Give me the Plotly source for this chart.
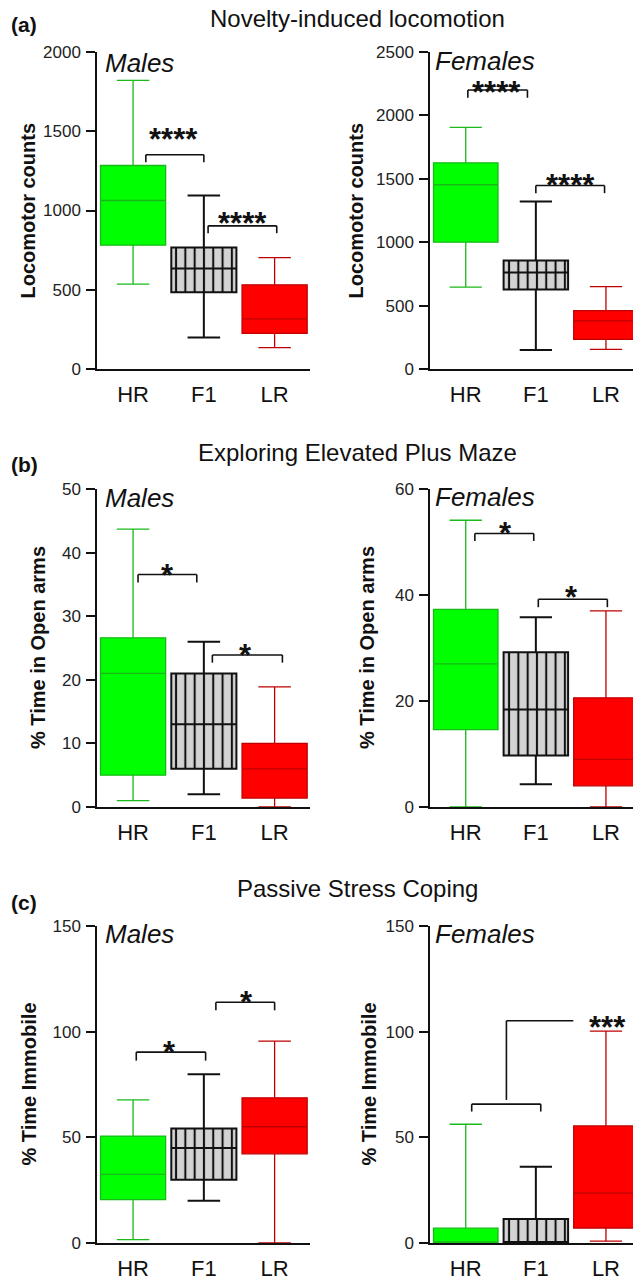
import plotly.graph_objects as go
from plotly.subplots import make_subplots

groups = ["HR", "F1", "LR"]

# (a) Novelty-induced locomotion
loco_m_low = [535, 198, 135]
loco_m_q1 = [781, 484, 225]
loco_m_med = [1063, 634, 316]
loco_m_q3 = [1284, 766, 531]
loco_m_high = [1821, 1095, 703]

loco_f_low = [645, 150, 155]
loco_f_q1 = [1000, 626, 234]
loco_f_med = [1453, 761, 379]
loco_f_q3 = [1626, 855, 461]
loco_f_high = [1905, 1321, 650]

# (b) Elevated plus maze
epm_m_low = [1.0, 2.0, 0.0]
epm_m_q1 = [5.0, 6.0, 1.4]
epm_m_med = [21.0, 13.0, 6.0]
epm_m_q3 = [26.6, 21.0, 10.0]
epm_m_high = [43.7, 26.0, 18.9]

epm_f_low = [0.0, 4.3, 0.0]
epm_f_q1 = [14.6, 9.7, 4.0]
epm_f_med = [27.0, 18.4, 9.0]
epm_f_q3 = [37.3, 29.2, 20.6]
epm_f_high = [54.1, 35.8, 37.0]

# (c) Passive stress coping
imm_m_low = [1.6, 20.0, 0.0]
imm_m_q1 = [20.5, 29.9, 42.2]
imm_m_med = [32.5, 44.9, 55.0]
imm_m_q3 = [50.6, 54.2, 68.7]
imm_m_high = [67.7, 79.9, 95.5]

imm_f_low = [0.0, 0.0, 0.9]
imm_f_q1 = [0.0, 0.0, 7.1]
imm_f_med = [0.0, 0.3, 23.6]
imm_f_q3 = [7.0, 11.4, 55.4]
imm_f_high = [56.2, 36.1, 100.3]

# significance brackets: (x0, x1, y_leg, y_top, label, label_x, label_y)
loco_m_sig = [(0.18, 1.0, 1305, 1352, "****", 0.57, 1493), (1.06, 2.03, 857, 903, "****", 1.55, 962)]
loco_f_sig = [(0.03, 0.88, 2139, 2200, "****", 0.44, 2234), (1.0, 1.98, 1387, 1447, "****", 1.49, 1503)]
epm_m_sig = [(0.07, 0.90, 35.3, 36.55, "*", 0.49, 37.5), (1.12, 2.11, 22.7, 23.9, "*", 1.59, 24.9)]
epm_f_sig = [(0.13, 0.97, 50.2, 51.6, "*", 0.56, 53.0), (1.035, 2.02, 37.7, 39.2, "*", 1.51, 40.8)]
imm_m_sig = [(0.045, 1.025, 86.3, 90.3, "*", 0.51, 93.3), (1.17, 2.0, 110.1, 113.9, "*", 1.60, 117.2)]
imm_f_sig = [(0.085, 1.07, 62.2, 65.7, "", 0, 0)]
imm_f_joint = (0.58, 67.7, 105.2, 1.535, "***", 2.02, 105.2)

panels = [
    dict(r=1, c=1, low=loco_m_low, q1=loco_m_q1, med=loco_m_med, q3=loco_m_q3, high=loco_m_high,
         rng=[0, 2000], dt=500, sig=loco_m_sig, sex="Males", ytitle="Locomotor counts"),
    dict(r=1, c=2, low=loco_f_low, q1=loco_f_q1, med=loco_f_med, q3=loco_f_q3, high=loco_f_high,
         rng=[0, 2500], dt=500, sig=loco_f_sig, sex="Females", ytitle="Locomotor counts"),
    dict(r=2, c=1, low=epm_m_low, q1=epm_m_q1, med=epm_m_med, q3=epm_m_q3, high=epm_m_high,
         rng=[0, 50], dt=10, sig=epm_m_sig, sex="Males", ytitle="% Time in Open arms"),
    dict(r=2, c=2, low=epm_f_low, q1=epm_f_q1, med=epm_f_med, q3=epm_f_q3, high=epm_f_high,
         rng=[0, 60], dt=20, sig=epm_f_sig, sex="Females", ytitle="% Time in Open arms"),
    dict(r=3, c=1, low=imm_m_low, q1=imm_m_q1, med=imm_m_med, q3=imm_m_q3, high=imm_m_high,
         rng=[0, 150], dt=50, sig=imm_m_sig, sex="Males", ytitle="% Time Immobile"),
    dict(r=3, c=2, low=imm_f_low, q1=imm_f_q1, med=imm_f_med, q3=imm_f_q3, high=imm_f_high,
         rng=[0, 150], dt=50, sig=imm_f_sig, sex="Females", ytitle="% Time Immobile"),
]

titles = ["Novelty-induced locomotion", "Exploring Elevated Plus Maze", "Passive Stress Coping"]
tags = ["(a)", "(b)", "(c)"]

# the page body adds an 8px margin around the figure; compensate
OFF = 8
W, H = 641 - OFF, 1281 - OFF
FONT = "Liberation Sans, Arial, sans-serif"


def px(x):
    return (x - OFF) / W


def py(y):
    return 1 - (y - OFF) / H


fills = {"HR": "#00ff00", "F1": "rgba(0,0,0,0)", "LR": "#ff0000"}
lines = {"HR": "#19b919", "F1": "#111111", "LR": "#c00000"}
lwidth = {"HR": 1.3, "F1": 2.0, "LR": 1.3}

# pixel layout (in window coordinates)
row_px = [(52, 369), (489, 807), (926, 1243)]
col_px = [(97, 310), (430, 641)]
ytitle_x = [[28, 356], [38, 367], [28, 368]]
sex_px = [[(103, 63), (433, 61)], [(103, 498), (433, 497)], [(103, 934), (433, 934)]]
title_y = [18, 452, 888]
tag_y = [25, 465, 902]

BW = 0.92
STAR_FONT = dict(family=FONT, size=31, color="#111111")

fig = make_subplots(rows=3, cols=2)

for p in panels:
    r, c = p["r"], p["c"]
    for i, g in enumerate(groups):
        if g == "F1":
            fig.add_trace(go.Bar(
                x=[i], base=[p["q1"][i]], y=[p["q3"][i] - p["q1"][i]], width=[BW],
                marker=dict(color="#d3d3d3", line=dict(width=0),
                            pattern=dict(shape="|", fgcolor="#111111", bgcolor="#d3d3d3",
                                         size=9.3, solidity=0.22, fillmode="replace")),
                showlegend=False, hoverinfo="skip"), row=r, col=c)
        fig.add_trace(go.Box(
            x=[i], q1=[p["q1"][i]], median=[p["med"][i]], q3=[p["q3"][i]],
            lowerfence=[p["low"][i]], upperfence=[p["high"][i]],
            width=BW, whiskerwidth=0.5, boxpoints=False,
            fillcolor=fills[g], line=dict(color=lines[g], width=lwidth[g]),
            showlegend=False, name=g), row=r, col=c)

    n = (r - 1) * 2 + c
    xr = "x" if n == 1 else f"x{n}"
    yr = "y" if n == 1 else f"y{n}"
    for (x0, x1, yl, yt, lab, lx, ly) in p["sig"]:
        for (a0, b0, a1, b1) in [(x0, yl, x0, yt), (x0, yt, x1, yt), (x1, yt, x1, yl)]:
            fig.add_shape(type="line", xref=xr, yref=yr, x0=a0, y0=b0, x1=a1, y1=b1,
                          line=dict(color="#111111", width=1.6))
        if lab:
            fig.add_annotation(xref=xr, yref=yr, x=lx, y=ly, text=f"<b>{lab}</b>", showarrow=False,
                               font=STAR_FONT, xanchor="center", yanchor="middle", yshift=-7)
    if r == 3 and c == 2:
        mx, yb, yt2, xe, lab, lx, ly = imm_f_joint
        fig.add_shape(type="line", xref=xr, yref=yr, x0=mx, y0=yb, x1=mx, y1=yt2,
                      line=dict(color="#111111", width=1.6))
        fig.add_shape(type="line", xref=xr, yref=yr, x0=mx, y0=yt2, x1=xe, y1=yt2,
                      line=dict(color="#111111", width=1.6))
        fig.add_annotation(xref=xr, yref=yr, x=lx, y=ly, text=f"<b>{lab}</b>", showarrow=False,
                           font=STAR_FONT, xanchor="center", yanchor="middle", yshift=-7)

    top, bot = row_px[r-1]
    left, right = col_px[c-1]
    fig.update_xaxes(row=r, col=c, domain=[px(left), min(1.0, px(right))], range=[-0.51, 2.5],
                     tickvals=[0, 1, 2], ticktext=groups, showline=True, linecolor="#111111",
                     linewidth=1.5, ticks="", ticklabelstandoff=5, showgrid=False, zeroline=False,
                     automargin=False,
                     tickfont=dict(family=FONT, size=22, color="#111111"))
    fig.update_yaxes(row=r, col=c, domain=[py(bot), py(top)], range=p["rng"], dtick=p["dt"],
                     tick0=0, showline=True, linecolor="#111111", linewidth=1.5, ticks="outside",
                     ticklen=9, tickwidth=1.5, tickcolor="#111111", showgrid=False, zeroline=False,
                     automargin=False,
                     tickfont=dict(family=FONT, size=17, color="#222222"), ticklabelstandoff=2)

    fig.add_annotation(xref="paper", yref="paper", x=px(ytitle_x[r-1][c-1]), y=py((top + bot) / 2),
                       text=f"<b>{p['ytitle']}</b>", textangle=-90, showarrow=False,
                       font=dict(family=FONT, size=20, color="#111111"),
                       xanchor="center", yanchor="middle")
    sx, sy = sex_px[r-1][c-1]
    fig.add_annotation(xref="paper", yref="paper", x=px(sx), y=py(sy),
                       text=f"<i>{p['sex']}</i>", showarrow=False,
                       font=dict(family=FONT, size=26, color="#111111"),
                       xanchor="left", yanchor="middle")

for k in range(3):
    fig.add_annotation(xref="paper", yref="paper", x=px(357), y=py(title_y[k]),
                       text=titles[k], showarrow=False,
                       font=dict(family=FONT, size=24, color="#111111"),
                       xanchor="center", yanchor="middle")
    fig.add_annotation(xref="paper", yref="paper", x=px(9), y=py(tag_y[k]),
                       text=f"<b>{tags[k]}</b>", showarrow=False,
                       font=dict(family=FONT, size=21, color="#111111"),
                       xanchor="left", yanchor="middle")

fig.update_layout(width=W, height=H, margin=dict(l=0, r=0, t=0, b=0, pad=0, autoexpand=False),
                  paper_bgcolor="white", plot_bgcolor="white", showlegend=False,
                  boxmode="overlay", barmode="overlay")

fig.write_html("out.html")
